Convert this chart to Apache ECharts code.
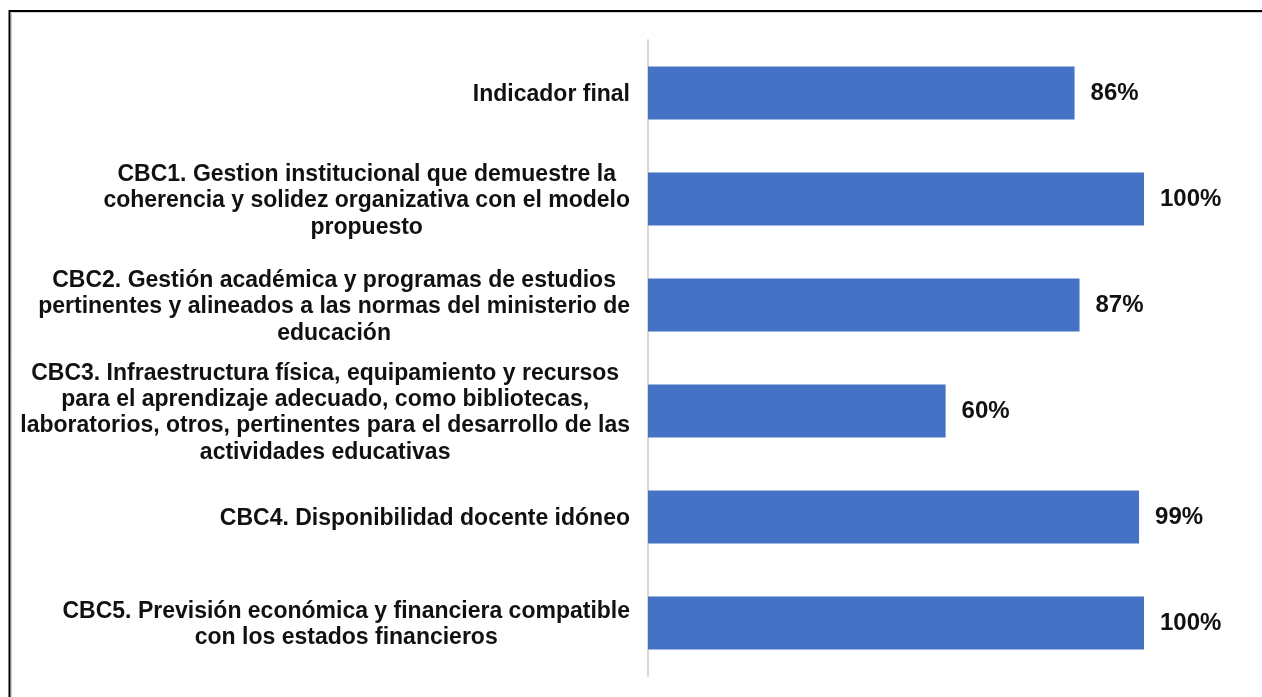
<!DOCTYPE html>
<html>
<head>
<meta charset="utf-8">
<style>
  html, body { margin: 0; padding: 0; background: #ffffff; }
  #chart { width: 1262px; height: 697px; }
</style>
<script src="https://cdn.jsdelivr.net/npm/echarts@6/dist/echarts.min.js"></script>
</head>
<body>
<div id="chart"></div>
<script>
// Criteria (top to bottom); line breaks as they appear on the axis
const categories = [
  'Indicador final',
  'CBC1. Gestion institucional que demuestre la\ncoherencia y solidez organizativa con el modelo\npropuesto',
  'CBC2. Gestión académica y programas de estudios\npertinentes y alineados a las normas del ministerio de\neducación',
  'CBC3. Infraestructura física, equipamiento y recursos\npara el aprendizaje adecuado, como bibliotecas,\nlaboratorios, otros, pertinentes para el desarrollo de las\nactividades educativas',
  'CBC4. Disponibilidad docente idóneo',
  'CBC5. Previsión económica y financiera compatible\ncon los estados financieros'
];

// Compliance percentage per criterion
const values = [86, 100, 87, 60, 99, 100];

const FONT = '"Liberation Sans", Arial, sans-serif';

const chart = echarts.init(document.getElementById('chart'), null, { renderer: 'canvas' });

chart.setOption({
  backgroundColor: '#ffffff',
  animation: false,
  grid: { left: 648, right: 118, top: 40, bottom: 21, containLabel: false },
  xAxis: {
    type: 'value',
    min: 0,
    max: 100,
    show: false
  },
  yAxis: {
    type: 'category',
    inverse: true,
    data: categories,
    axisLine: { show: true, lineStyle: { color: '#d9d9d9', width: 2 } },
    axisTick: { show: false },
    splitLine: { show: false },
    axisLabel: {
      margin: 18,
      align: 'right',
      verticalAlign: 'middle',
      padding: [4, 0, 0, 0],
      color: '#111111',
      fontFamily: FONT,
      fontWeight: 'bold',
      fontSize: 23,
      lineHeight: 26.3,
      formatter: function (v) {
        return v.split('\n').map(function (line) { return '{c|' + line + '}'; }).join('\n');
      },
      rich: {
        c: {
          align: 'center',
          color: '#111111',
          fontFamily: FONT,
          fontWeight: 'bold',
          fontSize: 23,
          lineHeight: 26.3
        }
      }
    }
  },
  series: [{
    type: 'bar',
    data: values,
    barWidth: 53,
    itemStyle: { color: '#4472C4' },
    label: {
      show: true,
      position: 'right',
      distance: 16,
      padding: [5, 0, 0, 0],
      formatter: '{c}%',
      color: '#111111',
      fontFamily: FONT,
      fontWeight: 'bold',
      fontSize: 24
    }
  }],
  graphic: [
    {
      type: 'polyline',
      silent: true,
      shape: { points: [[9.5, 697], [9.5, 11], [1262, 11]] },
      style: { stroke: '#000000', lineWidth: 2, fill: null }
    },
    {
      type: 'polyline',
      silent: true,
      shape: { points: [[11.5, 697], [11.5, 12.5], [1262, 12.5]] },
      style: { stroke: '#cfcfcf', lineWidth: 1, fill: null }
    }
  ]
});
</script>
</body>
</html>
